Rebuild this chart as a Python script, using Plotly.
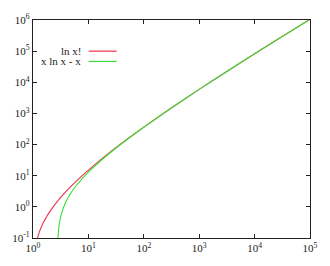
import plotly.graph_objects as go

# ln x!  (red)
x_lnfact = [1.2, 1.3, 1.4, 1.5, 1.6, 1.7, 1.8, 2, 2.5, 3, 3.5, 4, 5, 6, 7, 8, 10, 15, 20, 30, 50,
            100, 300, 1000, 3000, 10000, 30000, 100000]
y_lnfact = [0.0970, 0.1542, 0.2169, 0.2847, 0.3574, 0.4348, 0.5167, 0.6931, 1.2010, 1.7918, 2.4537,
            3.1781, 4.7875, 6.5793, 8.5252, 10.6046, 15.1044, 27.899, 42.3356, 74.6582, 148.478,
            363.739, 1414.906, 5912.128, 21024.03, 82108.93, 279274.66, 1051299.22]

# x ln x - x  (green)
x_stir = [2.8, 2.82, 2.85, 2.9, 2.95, 3, 3.1, 3.2, 3.5, 4, 4.5, 5, 6, 7, 8, 10, 15, 20, 30, 50,
          100, 300, 1000, 3000, 10000, 30000, 100000]
y_stir = [0.0829, 0.1036, 0.1349, 0.1877, 0.2413, 0.2958, 0.4074, 0.5221, 0.8847, 1.5452, 2.2684,
          3.0472, 4.7506, 6.6214, 8.6355, 13.0259, 25.6208, 39.9146, 72.0359, 145.601,
          360.517, 1411.135, 5907.755, 21019.10, 82103.40, 279268.58, 1051292.55]

series_names = ["ln x!", "x ln x - x"]
series_colors = ["#f0304a", "#38e038"]

x_tickvals = [1, 10, 100, 1000, 10000, 100000]
x_ticktext = ["10<sup>0</sup>", "10<sup>1</sup>", "10<sup>2</sup>", "10<sup>3</sup>",
              "10<sup>4</sup>", "10<sup>5</sup>"]
y_tickvals = [0.1, 1, 10, 100, 1000, 10000, 100000, 1000000]
y_ticktext = ["10<sup>-1</sup>", "10<sup>0</sup>", "10<sup>1</sup>", "10<sup>2</sup>",
              "10<sup>3</sup>", "10<sup>4</sup>", "10<sup>5</sup>", "10<sup>6</sup>"]

font_family = "Liberation Serif, Times New Roman, serif"

fig = go.Figure()
for xs, ys, name, col in [(x_lnfact, y_lnfact, series_names[0], series_colors[0]),
                          (x_stir, y_stir, series_names[1], series_colors[1])]:
    fig.add_trace(go.Scatter(x=xs, y=ys, mode="lines", name=name,
                             line=dict(color=col, width=1.1, shape="spline", smoothing=0.6),
                             showlegend=False))

axis_common = dict(type="log", showgrid=False, zeroline=False, showline=True,
                   linecolor="#222222", linewidth=1.2, mirror="ticks", ticks="inside",
                   ticklen=4, tickcolor="#222222", tickwidth=1,
                   tickfont=dict(family=font_family, size=11, color="#222222"))

fig.update_xaxes(range=[0, 5], tickvals=x_tickvals, ticktext=x_ticktext, **axis_common)
fig.update_yaxes(range=[-1, 6], tickvals=y_tickvals, ticktext=y_ticktext, **axis_common)

# legend drawn gnuplot-style: text right-aligned, sample line to its right
legend_y = [0.857, 0.810]
for name, col, ly in zip(series_names, series_colors, legend_y):
    fig.add_annotation(xref="paper", yref="paper", x=0.18, y=ly, text=name, showarrow=False,
                       xanchor="right", yanchor="middle",
                       font=dict(family=font_family, size=11, color="#222222"))
    fig.add_shape(type="line", xref="paper", yref="paper", x0=0.201, x1=0.302, y0=ly, y1=ly,
                  line=dict(color=col, width=1.2))

fig.update_layout(width=330, height=266, margin=dict(l=29, r=13, t=13, b=22),
                  plot_bgcolor="white", paper_bgcolor="white", showlegend=False)

fig.write_html("out.html")
